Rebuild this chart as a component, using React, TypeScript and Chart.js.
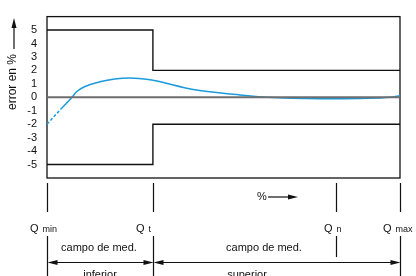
import React, { useEffect, useRef } from "react";
import { Chart, registerables } from "chart.js";

Chart.register(...registerables);

// ---- data ----
const yTicks = [-5, -4, -3, -2, -1, 0, 1, 2, 3, 4, 5];
const qPositions = [0, 30, 82, 100];
const qSubs = ["min", "t", "n", "max"];
const limitX = [0, 30, 30, 100];
const upperLimitY = [5, 5, 2, 2];
const lowerLimitY = [-5, -5, -2, -2];
const zeroX = [0, 100];
const zeroY = [0, 0];
const errorDashedX = [0, 4];
const errorDashedY = [-2, -0.85];
const errorX = [4, 7.1, 8.5, 15, 23.5, 29.2, 41.4, 53.8, 62.3, 77.3, 88.7, 97.2, 100];
const errorY = [-0.85, 0, 0.45, 1.15, 1.44, 1.3, 0.58, 0.2, 0, -0.1, -0.08, 0, 0.12];
const rangeLabel = "campo de med.";
const rangeSubLabels = ["inferior", "superior"];
const yTitle = "error en %";
const xTitle = "%";

const FONT = "'Liberation Sans', Arial, sans-serif";

function pts(xs: number[], ys: number[]) {
  return xs.map((x, i) => ({ x, y: ys[i] }));
}

function arrowHead(ctx: CanvasRenderingContext2D, x: number, y: number, dir: "l" | "r" | "u") {
  const L = 10, W = 2.5;
  ctx.beginPath();
  if (dir === "r") { ctx.moveTo(x, y); ctx.lineTo(x - L, y - W); ctx.lineTo(x - L, y + W); }
  else if (dir === "l") { ctx.moveTo(x, y); ctx.lineTo(x + L, y - W); ctx.lineTo(x + L, y + W); }
  else { ctx.moveTo(x, y); ctx.lineTo(x - W, y + L); ctx.lineTo(x + W, y + L); }
  ctx.closePath();
  ctx.fill();
}

const framePlugin = {
  id: "frame",
  beforeDatasetsDraw(chart: any) {
    const { ctx, chartArea: ca } = chart;
    ctx.save();
    ctx.strokeStyle = "#111";
    ctx.lineWidth = 1.3;
    ctx.strokeRect(ca.left, ca.top, ca.right - ca.left, ca.bottom - ca.top);
    ctx.restore();
  },
  afterDraw(chart: any) {
    const { ctx } = chart;
    const xs = chart.scales.x;
    ctx.save();
    ctx.fillStyle = "#111";
    ctx.strokeStyle = "#111";
    ctx.lineWidth = 1.2;

    // y title with arrow
    ctx.beginPath();
    ctx.moveTo(14, 49);
    ctx.lineTo(14, 26);
    ctx.stroke();
    arrowHead(ctx, 14, 18, "u");
    ctx.save();
    ctx.translate(16, 82);
    ctx.rotate(-Math.PI / 2);
    ctx.font = `12px ${FONT}`;
    ctx.textAlign = "center";
    ctx.textBaseline = "alphabetic";
    ctx.fillText(yTitle, 0, 0);
    ctx.restore();

    // x title "%" with arrow
    ctx.font = `11px ${FONT}`;
    ctx.textAlign = "left";
    ctx.fillText(xTitle, 257, 200);
    ctx.beginPath();
    ctx.moveTo(268, 197);
    ctx.lineTo(290, 197);
    ctx.stroke();
    arrowHead(ctx, 298, 197, "r");

    // Q markers
    const qpx = qPositions.map((v) => Math.round(xs.getPixelForValue(v)));
    qpx.forEach((px, i) => {
      const x = px + 0.5;
      ctx.beginPath();
      ctx.moveTo(x, 183);
      ctx.lineTo(x, 212);
      ctx.moveTo(x, 236);
      ctx.lineTo(x, qSubs[i] === "n" ? 257 : 276);
      ctx.stroke();
      const left = px - (qSubs[i] === "n" ? 12 : 17);
      ctx.font = `11px ${FONT}`;
      ctx.textAlign = "left";
      ctx.fillText("Q", left, 232);
      const qw = ctx.measureText("Q").width;
      ctx.font = `9px ${FONT}`;
      ctx.fillText(qSubs[i], left + qw + 4, 232);
    });

    // range arrows
    const ay = 262.5;
    const segs = [[qpx[0], qpx[1]], [qpx[1], qpx[3]]];
    segs.forEach(([a, b]) => {
      ctx.beginPath();
      ctx.moveTo(a + 8, ay);
      ctx.lineTo(b - 8, ay);
      ctx.stroke();
      arrowHead(ctx, a + 0.5, ay, "l");
      arrowHead(ctx, b + 0.5, ay, "r");
    });

    // range texts
    ctx.font = `11px ${FONT}`;
    ctx.textAlign = "center";
    ctx.fillText(rangeLabel, (qpx[0] + qpx[1]) / 2 - 1, 251);
    ctx.fillText(rangeLabel, qpx[1] + 111, 251);
    ctx.fillText(rangeSubLabels[0], (qpx[0] + qpx[1]) / 2, 278);
    ctx.fillText(rangeSubLabels[1], qpx[1] + 94, 278);
    ctx.restore();
  },
};

export default function App() {
  const ref = useRef<HTMLCanvasElement | null>(null);
  useEffect(() => {
    if (!ref.current) return;
    const chart = new Chart(ref.current, {
      type: "scatter",
      data: {
        datasets: [
          {
            data: pts(zeroX, zeroY),
            showLine: true,
            borderColor: "#6e6e6e",
            borderWidth: 2,
            pointRadius: 0,
          },
          {
            data: pts(errorX, errorY),
            showLine: true,
            borderColor: "#1a9bdc",
            borderWidth: 1.5,
            pointRadius: 0,
            cubicInterpolationMode: "monotone",
          },
          {
            data: pts(errorDashedX, errorDashedY),
            showLine: true,
            borderColor: "#1a9bdc",
            borderWidth: 1.5,
            borderDash: [3, 2],
            pointRadius: 0,
          },
          {
            data: pts(limitX, upperLimitY),
            showLine: true,
            borderColor: "#111",
            borderWidth: 1.4,
            pointRadius: 0,
          },
          {
            data: pts(limitX, lowerLimitY),
            showLine: true,
            borderColor: "#111",
            borderWidth: 1.4,
            pointRadius: 0,
          },
        ],
      } as any,
      options: {
        animation: false,
        responsive: false,
        events: [],
        layout: { padding: { top: 13, right: 16, bottom: 98, left: 0 } },
        plugins: { legend: { display: false }, tooltip: { enabled: false } },
        scales: {
          x: { type: "linear", min: 0, max: 100, display: false },
          y: {
            type: "linear",
            min: -6,
            max: 6,
            grid: { display: false, drawTicks: false },
            border: { display: false },
            afterBuildTicks: (axis: any) => {
              axis.ticks = yTicks.map((v) => ({ value: v }));
            },
            afterFit: (scale: any) => {
              scale.width = 47;
            },
            ticks: {
              padding: 10,
              color: "#111",
              font: { family: FONT, size: 11 },
              callback: (v: any) => String(v),
            },
          },
        },
      } as any,
      plugins: [framePlugin],
    });
    return () => chart.destroy();
  }, []);
  return (
    <div style={{ position: "fixed", left: 0, top: 0, width: 416, height: 276, background: "#fff" }}>
      <canvas ref={ref} width={416} height={276} />
    </div>
  );
}
